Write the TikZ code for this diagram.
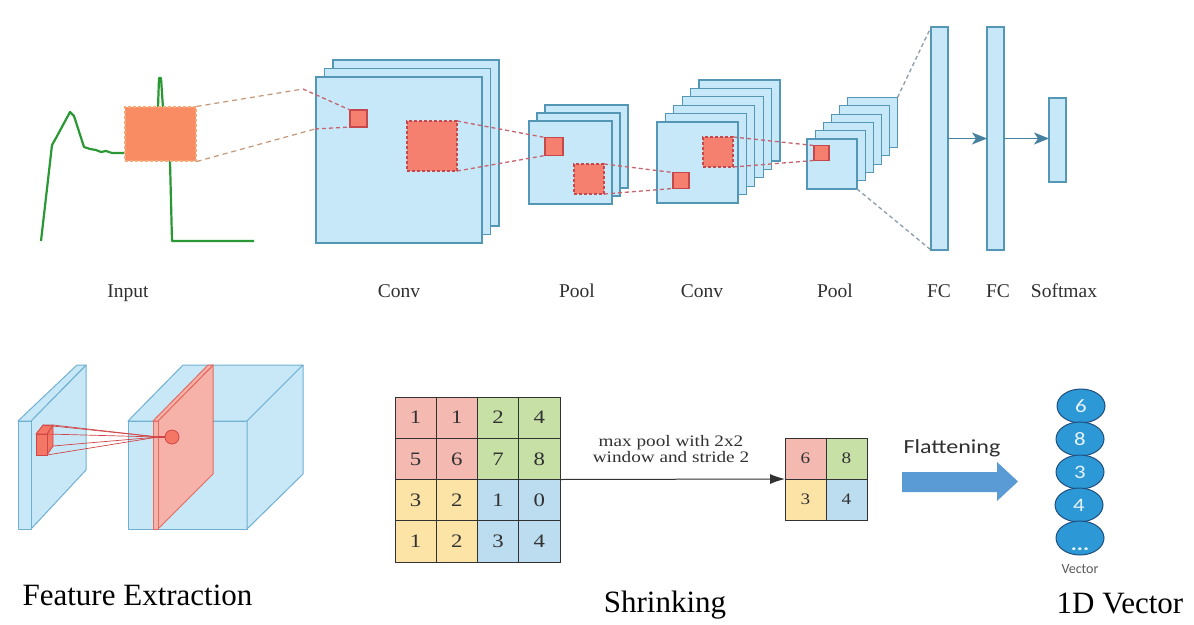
\documentclass[tikz,border=0pt]{standalone}
\usepackage{fontspec}
\setmainfont{Liberation Serif}
\newfontfamily\wideserif[FakeStretch=1.2]{Liberation Serif}
\newfontfamily\calibwide[FakeStretch=1.2]{Carlito}
\newfontfamily\calib{Carlito}
\usetikzlibrary{arrows.meta,shapes.geometric}

% layer and patch colours
\definecolor{lfill}{RGB}{198,232,249}
\definecolor{lline}{RGB}{84,150,182}
\definecolor{pfill}{RGB}{246,128,112}
\definecolor{pline}{RGB}{196,72,76}
\definecolor{inboxfill}{RGB}{250,140,100}
\definecolor{inboxline}{RGB}{245,170,120}
\definecolor{sig}{RGB}{42,152,52}
\definecolor{redlink}{RGB}{198,100,112}
\definecolor{orlink}{RGB}{196,150,120}
\definecolor{graylink}{RGB}{140,156,170}
\definecolor{labelgray}{RGB}{48,48,48}
\definecolor{arrowblue}{RGB}{70,130,160}
% pooling grid colours
\definecolor{cellred}{RGB}{244,185,176}
\definecolor{cellgreen}{RGB}{198,224,166}
\definecolor{cellyellow}{RGB}{252,228,166}
\definecolor{cellblue}{RGB}{188,220,240}
\definecolor{gridline}{RGB}{50,50,50}
% flattening and vector colours
\definecolor{flatblue}{RGB}{91,155,213}
\definecolor{vecfill}{RGB}{45,152,214}
\definecolor{vecline}{RGB}{30,78,126}
\definecolor{vectext}{RGB}{232,244,251}
% 3D feature-extraction colours
\definecolor{boxfill}{RGB}{200,232,247}
\definecolor{boxline}{RGB}{112,176,210}
\definecolor{planefill}{RGB}{246,178,168}
\definecolor{planeline}{RGB}{226,108,100}
\definecolor{cubefill}{RGB}{244,118,100}
\definecolor{rayred}{RGB}{208,70,72}

\tikzset{
  layer/.style={draw=lline, fill=lfill, line width=1.2pt, inner sep=0pt, outer sep=0pt, anchor=north west},
  patch/.style={draw=pline, fill=pfill, line width=1.2pt, inner sep=0pt, outer sep=0pt},
  dpatch/.style={patch, dash pattern=on 3pt off 2pt},
  link/.style={redlink, dash pattern=on 4pt off 3pt, line width=1.3pt},
  orlinkstyle/.style={orlink, dash pattern=on 5pt off 4pt, line width=1.2pt},
  graystyle/.style={graylink, dash pattern=on 4pt off 3pt, line width=1.3pt},
  toplabel/.style={font=\fontsize{19.5}{22}\selectfont, text=labelgray, anchor=base},
  biglabel/.style={font=\fontsize{31}{36}\selectfont, text=black, anchor=base},
  cell/.style={draw=gridline, line width=1pt, minimum size=41.25pt, inner sep=0pt, outer sep=0pt,
    font=\wideserif\fontsize{19}{22}\selectfont, text=gridline},
  scell/.style={draw=gridline, line width=1pt, minimum size=41pt, inner sep=0pt, outer sep=0pt,
    font=\wideserif\fontsize{16}{18}\selectfont, text=gridline},
  vec/.style={ellipse, draw=vecline, fill=vecfill, line width=1pt, minimum width=48pt, minimum height=34pt,
    inner sep=0pt, text=vectext, font=\calibwide\fontsize{19}{20}\selectfont},
  boxface/.style={fill=boxfill, draw=boxline, line width=1pt, line join=round},
  planeface/.style={fill=planefill, draw=planeline, line width=1pt, line join=round},
  fcarrow/.style={arrowblue, line width=1.5pt, -{Stealth[length=15pt,width=12pt,inset=4pt]}},
}

\begin{document}
\begin{tikzpicture}[x=1pt, y=-1pt]
\fill[white] (0,0) rectangle (1194,624);
\path[use as bounding box] (0,0) rectangle (1194,624);

% ---------------- input signal ----------------
\draw[sig, line width=2.2pt, line join=round]
  (41,241) -- (52,145) -- (56,138) -- (70,112) -- (74,116) -- (84,147) -- (90,149)
  -- (96,150) -- (101,152) -- (106,151) -- (112,153) -- (118,153) -- (127,153);
\draw[sig, line width=2.2pt, line join=round] (158,108) -- (159,78) -- (161,78) -- (163,108);
\draw[sig, line width=2.2pt, line join=round] (170,161) -- (172,241) -- (254,241);
\node[fill=inboxfill, draw=inboxline, dash pattern=on 3pt off 2pt, line width=1.1pt,
  minimum width=71pt, minimum height=54pt, inner sep=0pt] (inbox) at (160.5,134) {};

% ---------------- first convolution ----------------
\foreach \k in {2,1}
  \node[layer, minimum width=166pt, minimum height=166pt] (c1b\k) at ({316+8.5*\k},{77-8.5*\k}) {};
\node[layer, minimum width=166pt, minimum height=166pt] (c1) at (316,77) {};
\node[patch, minimum size=17pt] (c1s) at (358.5,118.5) {};
\node[dpatch, minimum size=50pt] (c1d) at (432,146) {};

% ---------------- first pooling ----------------
\foreach \k in {2,1}
  \node[layer, minimum size=83pt] (p1b\k) at ({529+8*\k},{121-8*\k}) {};
\node[layer, minimum size=83pt] (p1) at (529,121) {};
\node[patch, minimum size=18pt] (p1s) at (554,146.5) {};
\node[dpatch, minimum size=30pt] (p1d) at (589,179) {};

% ---------------- second convolution ----------------
\foreach \k in {5,4,3,2,1}
  \node[layer, minimum size=81pt] (c2b\k) at ({657+8.4*\k},{122-8.4*\k}) {};
\node[layer, minimum size=81pt] (c2) at (657,122) {};
\node[patch, minimum size=16pt] (c2s) at (681,180.5) {};
\node[dpatch, minimum size=30pt] (c2d) at (718,152) {};

% ---------------- second pooling ----------------
\foreach \k in {5,4,3,2,1}
  \node[layer, minimum size=50pt] (p2b\k) at ({807+8.1*\k},{139-8.3*\k}) {};
\node[layer, minimum size=50pt] (p2) at (807,139) {};
\node[patch, minimum size=15pt] (p2s) at (821.5,153) {};

% ---------------- fully connected and softmax ----------------
\node[layer, anchor=center, minimum width=17pt, minimum height=223pt] (fc1) at (939.5,138.5) {};
\node[layer, anchor=center, minimum width=17pt, minimum height=223pt] (fc2) at (995.5,138.5) {};
\node[layer, anchor=center, minimum width=17pt, minimum height=84pt] (sm) at (1057.5,140) {};

% ---------------- receptive-field links ----------------
\coordinate (k1) at (303,89);
\coordinate (k2) at (315,129);
\draw[orlinkstyle] (inbox.north east) -- (k1);
\draw[orlinkstyle] (inbox.south east) -- (k2);
\draw[link] (k1) -- (c1s.north west);
\draw[link] (k2) -- (c1s.south west);
\draw[link] (c1d.north east) -- (p1s.north west);
\draw[link] (c1d.south east) -- (p1s.south west);
\draw[link] (p1d.north east) -- (c2s.north west);
\draw[link] (p1d.south east) -- (c2s.south west);
\draw[link] (c2d.north east) -- (p2s.north west);
\draw[link] (c2d.south east) -- (p2s.south west);
\draw[graystyle] (p2b5.north east) -- (fc1.north west);
\draw[graystyle] (p2.south east) -- (fc1.south west);

\draw[fcarrow] (fc1.east) -- (fc2.west);
\draw[fcarrow] (fc2.east) -- (fc2.east -| sm.west);

% ---------------- layer captions ----------------
\node[toplabel] (lin) at (128,297) {Input};
\node[toplabel] (lc1) at (399,297) {Conv};
\node[toplabel] (lp1) at (577,297) {Pool};
\node[toplabel] (lc2) at (702,297) {Conv};
\node[toplabel] (lp2) at (835,297) {Pool};
\node[toplabel] (lf1) at (939,297) {FC};
\node[toplabel] (lf2) at (998,297) {FC};
\node[toplabel] (lsm) at (1064,297) {Softmax};

% ---------------- feature extraction (3D) ----------------
% input slab
\path[boxface] (31,421) -- (86,365) -- (86,470) -- (31,529) -- cycle;
\path[boxface] (18,421) -- (77,365) -- (86,365) -- (31,421) -- cycle;
\path[boxface] (18,421) rectangle (31,529);
% kernel cube
\path[fill=cubefill, draw=rayred, line width=0.8pt, line join=round] (47,434) -- (53,425) -- (53,446) -- (47,455) -- cycle;
\path[fill=cubefill, draw=rayred, line width=0.8pt, line join=round] (36,434) -- (43,425) -- (53,425) -- (47,434) -- cycle;
\path[fill=cubefill, draw=rayred, line width=0.8pt] (36,434) rectangle (47,455);
% output volume
\path[boxface] (128,421) rectangle (247,529);
\path[boxface] (128,421) -- (183,365) -- (303,365) -- (247,421) -- cycle;
\path[boxface] (247,421) -- (303,365) -- (303,474) -- (247,529) -- cycle;
% feature map plane
\path[planeface] (158,421) -- (213,365) -- (213,474) -- (158,529) -- cycle;
\path[planeface] (153,421) -- (208,365) -- (213,365) -- (158,421) -- cycle;
\path[planeface] (153,421) rectangle (158,529);
% rays from kernel to output unit
\coordinate (focus) at (158,437);
\foreach \p in {(43,425),(53,425),(53,446),(47,455),(47,434)}
  \draw[rayred, line width=0.7pt] \p -- (focus);
\node[circle, fill=cubefill, draw=rayred, line width=0.8pt, minimum size=14pt, inner sep=0pt] (unit) at (172,437) {};
\draw[rayred, line width=1.6pt] (focus) -- (unit.west);

% ---------------- max pooling grid ----------------
\foreach \r/\vals in {1/{1,1,2,4},2/{5,6,7,8},3/{3,2,1,0},4/{1,2,3,4}} {
  \foreach \v [count=\c] in \vals {
    \pgfmathsetmacro\cx{395+41.25*(\c-0.5)}
    \pgfmathsetmacro\cy{397+41.25*(\r-0.5)}
    \ifnum\r<3 \ifnum\c<3 \def\cc{cellred}\else\def\cc{cellgreen}\fi
    \else \ifnum\c<3 \def\cc{cellyellow}\else\def\cc{cellblue}\fi\fi
    \node[cell, fill=\cc] (g\r\c) at (\cx,\cy) {\v};
  }
}
\node[scell, fill=cellred] (s11) at (805.5,458.5) {6};
\node[scell, fill=cellgreen] (s12) at (846.5,458.5) {8};
\node[scell, fill=cellyellow] (s21) at (805.5,499.5) {3};
\node[scell, fill=cellblue] (s22) at (846.5,499.5) {4};
\draw[gridline, line width=1pt, -{Latex[length=15pt,width=10pt]}] (g24.south east) -- (s11.south west);
\node[align=center, font=\wideserif\fontsize{16}{14.5}\selectfont, text=gridline, inner sep=0pt] (mp) at (671,449)
  {max pool with 2x2\\window and stride 2};

% ---------------- flattening ----------------
\fill[flatblue] (902,472) -- (997,472) -- (997,462) -- (1018,481.5) -- (997,501) -- (997,492) -- (902,492) -- cycle;
\node[font=\calibwide\fontsize{20}{22}\selectfont, text=labelgray] (flat) at (952,448) {Flattening};

\node[vec] (v1) at (1081,406) {6};
\node[vec] (v2) at (1080,439) {8};
\node[vec] (v3) at (1080,472) {3};
\node[vec] (v4) at (1079,505) {4};
\node[vec] (v5) at (1080,538) {};
\node[text=vectext, font=\calibwide\fontsize{19}{20}\selectfont\bfseries, inner sep=0pt] (vdots) at (1080,549) {...};
\node[font=\calib\fontsize{14}{16}\selectfont, text=labelgray!80] (vlab) at (1080,569) {Vector};

% ---------------- section captions ----------------
\node[biglabel] (fe) at (137.5,605) {Feature Extraction};
\node[biglabel] (sh) at (665,612) {Shrinking};
\node[biglabel] (vd) at (1120,613) {1D Vector};
\end{tikzpicture}
\end{document}
